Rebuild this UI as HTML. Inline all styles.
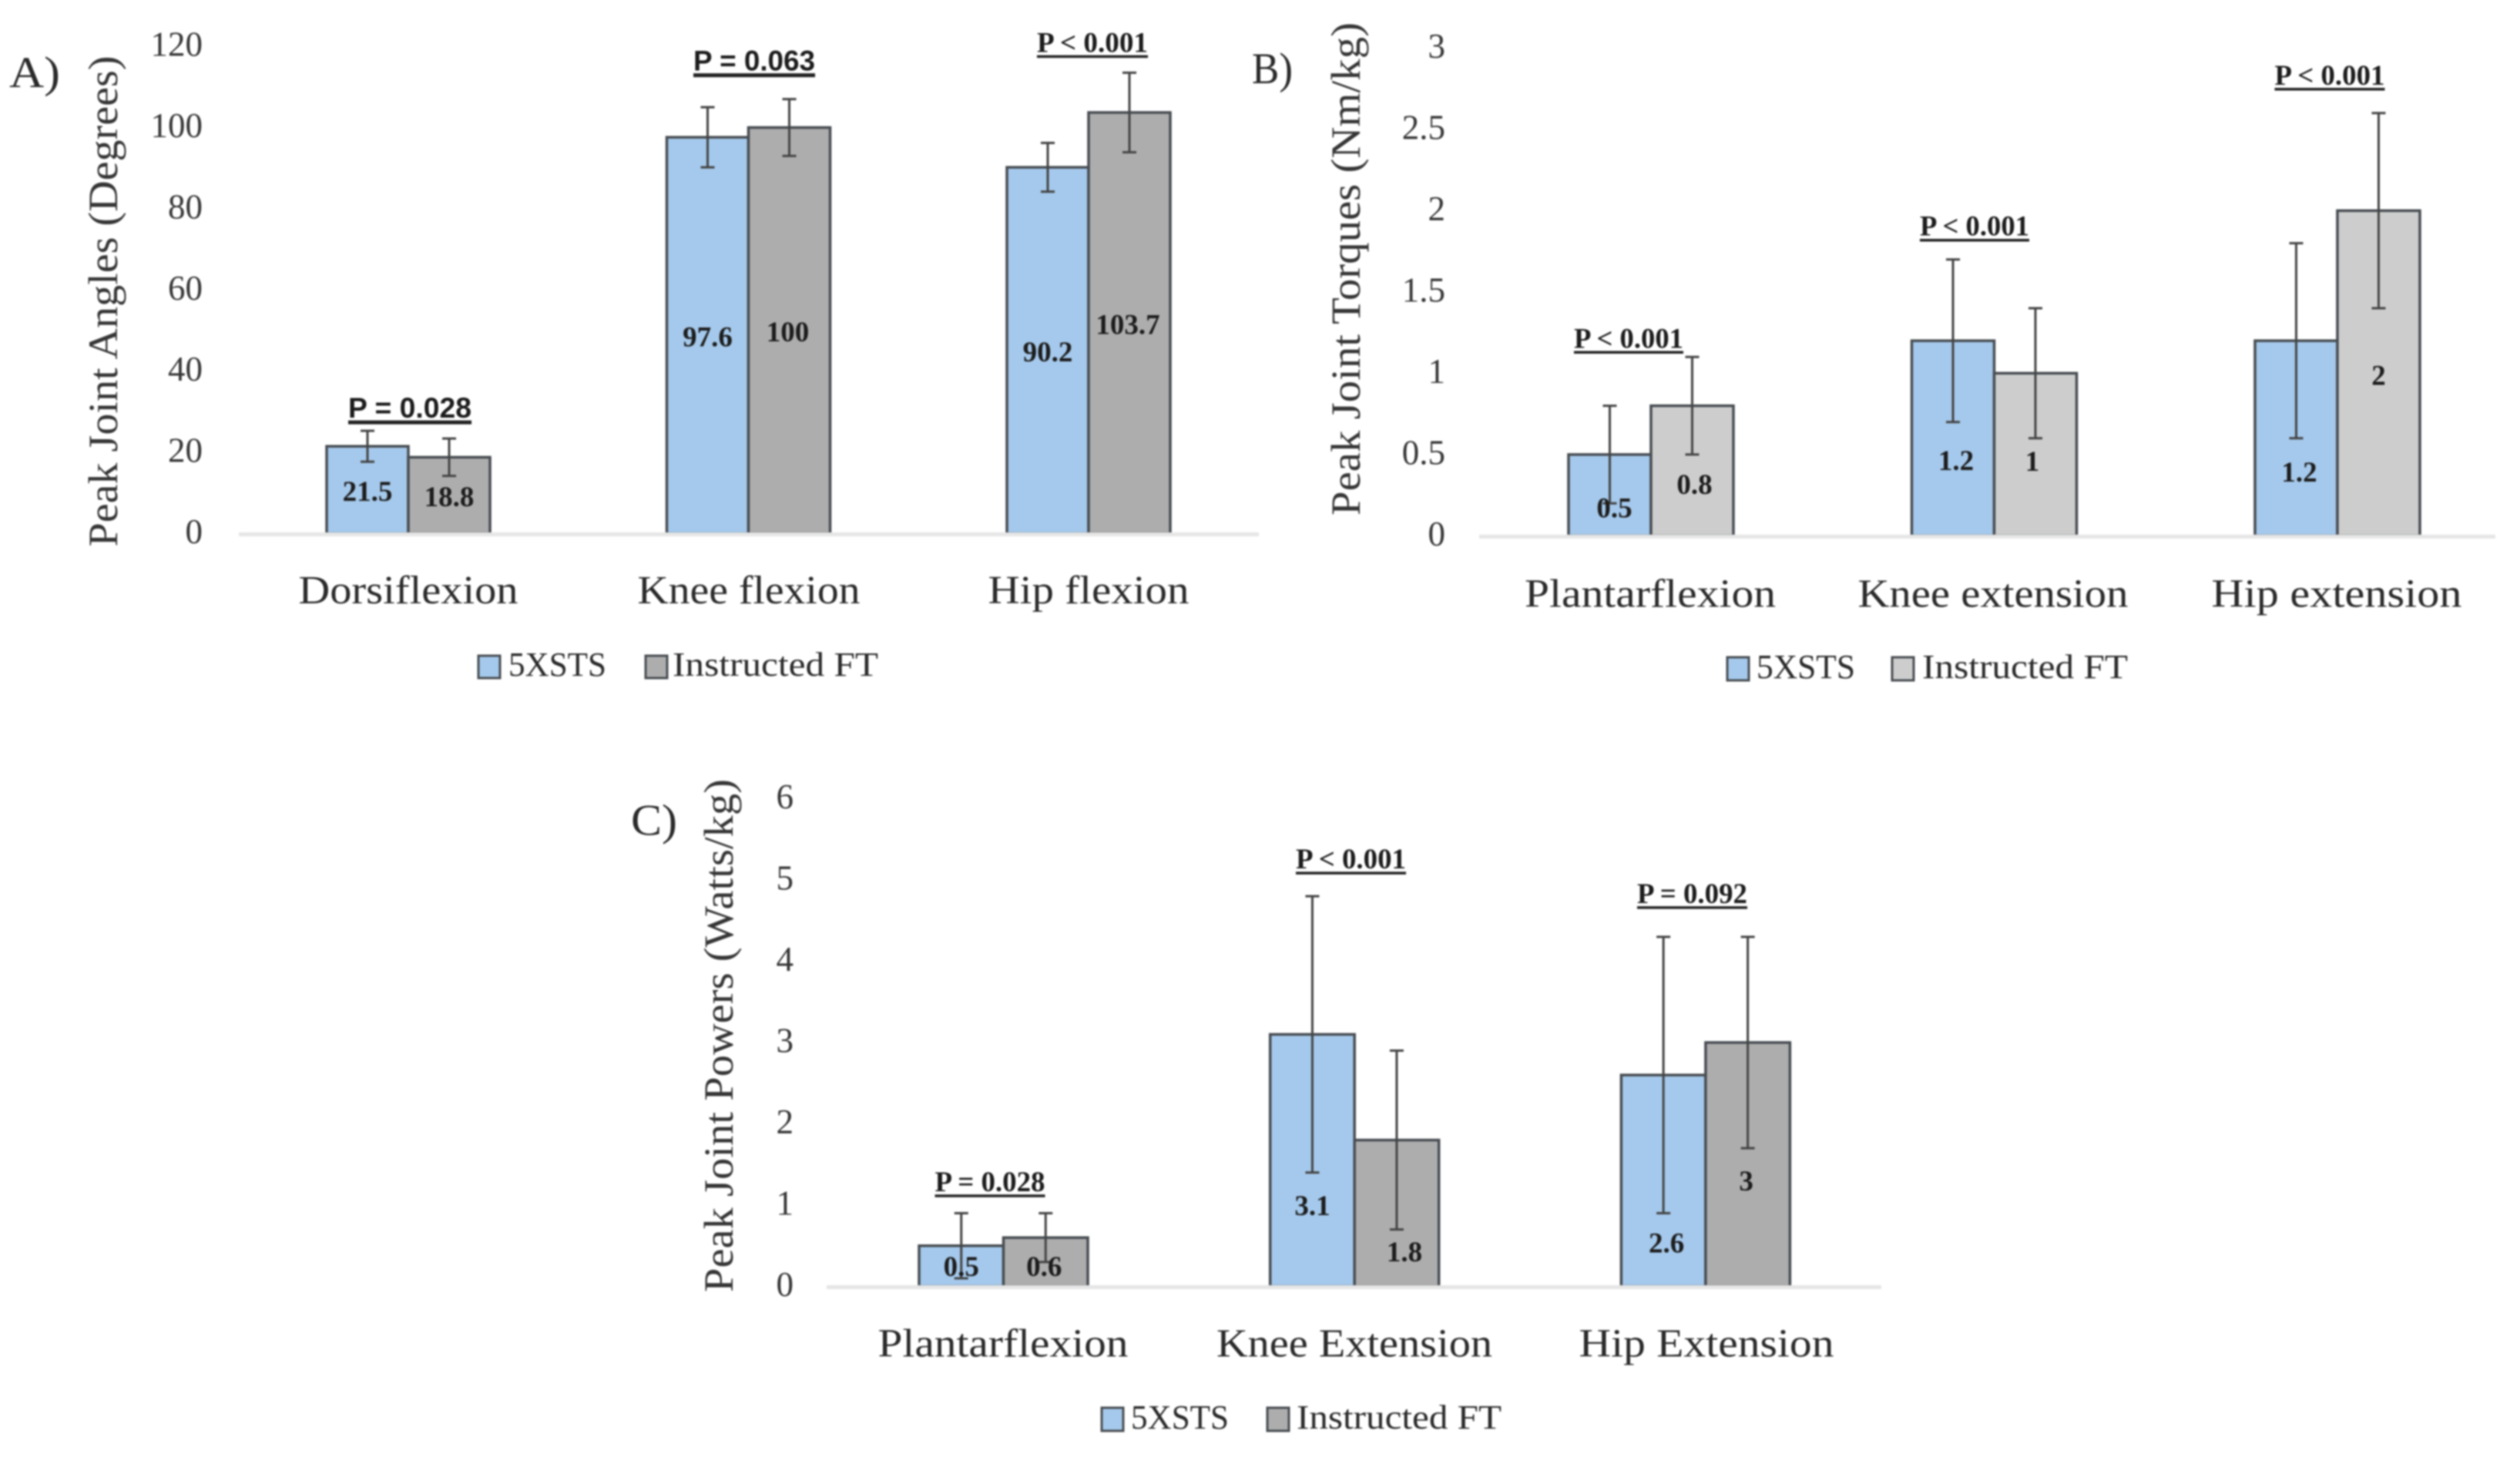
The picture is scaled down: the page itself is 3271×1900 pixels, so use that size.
<!DOCTYPE html>
<html lang="en">
<head>
<meta charset="utf-8">
<title>Peak joint angles, torques and powers</title>
<style>
  html, body { margin: 0; padding: 0; background: #ffffff; }
  #figure { display: block; width: 3271px; height: 1900px; filter: blur(1.1px); font-family: "Liberation Serif", serif; }
</style>
</head>
<body>
<svg id="figure" xmlns="http://www.w3.org/2000/svg" width="3271" height="1900" viewBox="0 0 3271 1900"></svg>
<script>
/* ---- Chart A: peak joint angles ---- */
const anglesCategories = ["Dorsiflexion", "Knee flexion", "Hip flexion"];
const anglesXsts = [21.5, 97.6, 90.2];
const anglesFt = [18.8, 100, 103.7];
const anglesXstsSd = [3.8, 7.4, 6];
const anglesFtSd = [4.6, 7, 9.8];
const anglesTicks = [0, 20, 40, 60, 80, 100, 120];
const anglesPValues = ["P = 0.028", "P = 0.063", "P < 0.001"];

/* ---- Chart B: peak joint torques ---- */
const torquesCategories = ["Plantarflexion", "Knee extension", "Hip extension"];
const torquesXsts = [0.5, 1.2, 1.2];
const torquesFt = [0.8, 1, 2];
const torquesXstsSd = [0.3, 0.5, 0.6];
const torquesFtSd = [0.3, 0.4, 0.6];
const torquesTicks = [0, 0.5, 1, 1.5, 2, 2.5, 3];
const torquesPValues = ["P < 0.001", "P < 0.001", "P < 0.001"];

/* ---- Chart C: peak joint powers ---- */
const powersCategories = ["Plantarflexion", "Knee Extension", "Hip Extension"];
const powersXsts = [0.5, 3.1, 2.6];
const powersFt = [0.6, 1.8, 3];
const powersXstsSd = [0.4, 1.7, 1.7];
const powersFtSd = [0.3, 1.1, 1.3];
const powersTicks = [0, 1, 2, 3, 4, 5, 6];
const powersPValues = ["P = 0.028", "P < 0.001", "P = 0.092"];

const seriesNames = ["5XSTS", "Instructed FT"];

const SVG_NS = "http://www.w3.org/2000/svg";
const root = document.getElementById("figure");

function add(tag, attrs, parent, text) {
  const node = document.createElementNS(SVG_NS, tag);
  for (const key in attrs) node.setAttribute(key, attrs[key]);
  if (text !== undefined) node.textContent = text;
  parent.appendChild(node);
  return node;
}

function drawChart(cfg) {
  const panel = add("g", {}, root);
  
  

  const yScale = v => cfg.baseY - v * cfg.pxPerUnit;
  const groupX = i => cfg.firstCenter + i * cfg.step;

  /* panel letter */
  const letter = add("text", { x: cfg.letter.x, y: cfg.letter.y, "font-size": 57, fill: "#2a2a2a", textLength: cfg.letter.w, lengthAdjust: "spacingAndGlyphs" }, panel, cfg.letter.text);
  
  

  /* y axis title */
  const title = add("text", { transform: "translate(" + cfg.title.x + "," + cfg.title.y + ") rotate(-90)", "text-anchor": "middle", "font-size": 54, fill: "#363636", textLength: cfg.title.w, lengthAdjust: "spacingAndGlyphs" }, panel, cfg.title.text);
  
  

  /* y tick labels */
  cfg.ticks.forEach(t => {
    const tick = add("text", { x: cfg.tickX, y: yScale(t) + 12.5, "text-anchor": "end", "font-size": 45, fill: "#363636" }, panel, String(t));
    
    
  });

  /* bars */
  const series = [
    { values: cfg.xsts, sd: cfg.xstsSd, fill: "#a5c9ec", side: -1 },
    { values: cfg.ft, sd: cfg.ftSd, fill: cfg.ftFill, side: 1 }
  ];
  series.forEach((s, si) => {
    s.values.forEach((v, i) => {
      const left = groupX(i) + (s.side < 0 ? -cfg.barW : 0);
      const rect = add("rect", { x: left, y: yScale(v), width: cfg.barW, height: cfg.baseY - yScale(v), fill: s.fill, stroke: "#484d52", "stroke-width": 3.5 }, panel);
      
      
    });
  });

  /* axis line */
  const axis = add("line", { x1: cfg.axisFrom, x2: cfg.axisTo, y1: cfg.baseY + 1, y2: cfg.baseY + 1, stroke: "#e6e6e6", "stroke-width": 5 }, panel);
  
  

  /* error bars and value labels */
  series.forEach((s, si) => {
    s.values.forEach((v, i) => {
      const cx = groupX(i) + s.side * cfg.barW / 2;
      const top = yScale(v + s.sd[i]);
      const bottom = yScale(v - s.sd[i]);
      const whisker = add("path", {
        d: "M" + cx + " " + top + "V" + bottom + "M" + (cx - 9) + " " + top + "H" + (cx + 9) + "M" + (cx - 9) + " " + bottom + "H" + (cx + 9),
        fill: "none", stroke: "#444444", "stroke-width": 3
      }, panel);
      
      

      const nudge = cfg.labelNudge[si * 3 + i];
      const label = add("text", { x: cx + nudge[0], y: yScale(v / 2) + nudge[1], "text-anchor": "middle", "font-size": 37, "font-weight": "bold", fill: "#1c1c1c" }, panel, String(v));
      
      
    });
  });

  /* p values */
  cfg.pValues.forEach((p, i) => {
    const high = Math.max(cfg.xsts[i] + cfg.xstsSd[i], cfg.ft[i] + cfg.ftSd[i]);
    const base = yScale(high) - cfg.pGap[i];
    const cx = cfg.pCenter[i];
    const width = cfg.pWidth[i];
    const sans = p.indexOf("=") >= 0 && cfg.pSans;
    const pText = add("text", {
      x: cx, y: base, "text-anchor": "middle", "font-size": 37, "font-weight": "bold", fill: "#1c1c1c",
      "font-family": sans ? '"Liberation Sans", sans-serif' : '"Liberation Serif", serif',
      textLength: width, lengthAdjust: "spacingAndGlyphs"
    }, panel, p);
    
    
    const rule = add("line", { x1: cx - width / 2, x2: cx + width / 2, y1: base + 6, y2: base + 6, stroke: "#222222", "stroke-width": sans ? 5 : 3.5 }, panel);
    
    
  });

  /* category labels */
  cfg.categories.forEach((c, i) => {
    const cat = add("text", { x: cfg.catCenter[i], y: cfg.catY, "text-anchor": "middle", "font-size": 52, fill: "#2a2a2a", textLength: cfg.catWidth[i], lengthAdjust: "spacingAndGlyphs" }, panel, c);
    
    
  });

  /* legend */
  const legend = add("g", {}, panel);
  
  
  const L = cfg.legend;
  const swatchA = add("rect", { x: L.sw1, y: L.top, width: 28, height: L.h, fill: "#a5c9ec", stroke: "#484d52", "stroke-width": 3 }, legend);
  
  
  const labelA = add("text", { x: L.t1, y: L.base, "font-size": 44, fill: "#2a2a2a", textLength: L.w1, lengthAdjust: "spacingAndGlyphs" }, legend, seriesNames[0]);
  
  
  const swatchB = add("rect", { x: L.sw2, y: L.top, width: 28, height: L.h, fill: cfg.ftFill, stroke: "#484d52", "stroke-width": 3 }, legend);
  
  
  const labelB = add("text", { x: L.t2, y: L.base, "font-size": 44, fill: "#2a2a2a", textLength: L.w2, lengthAdjust: "spacingAndGlyphs" }, legend, seriesNames[1]);
  
  
}

drawChart({
  name: "peak-joint-angles-chart",
  categories: anglesCategories, xsts: anglesXsts, ft: anglesFt, xstsSd: anglesXstsSd, ftSd: anglesFtSd,
  ticks: anglesTicks, pValues: anglesPValues,
  baseY: 692.5, pxPerUnit: 5.27, firstCenter: 530, step: 441.5, barW: 106, axisFrom: 310, axisTo: 1634,
  ftFill: "#adadad", tickX: 263, catY: 783,
  catCenter: [530, 972, 1413], catWidth: [285, 289, 261],
  letter: { text: "A)", x: 12, y: 113, w: 66 },
  title: { text: "Peak Joint Angles (Degrees)", x: 152, y: 391, w: 637 },
  labelNudge: [[0, 14], [0, 14], [0, 14], [0, 14], [-2, 14], [-2, 14]],
  pCenter: [532, 979, 1418], pWidth: [160, 158, 144], pGap: [17, 37, 27], pSans: true,
  legend: { sw1: 621, sw2: 838, top: 851, h: 29, t1: 660, t2: 873, base: 877, w1: 127, w2: 267 }
});

drawChart({
  name: "peak-joint-torques-chart",
  categories: torquesCategories, xsts: torquesXsts, ft: torquesFt, xstsSd: torquesXstsSd, ftSd: torquesFtSd,
  ticks: torquesTicks, pValues: torquesPValues,
  baseY: 695.4, pxPerUnit: 211, firstCenter: 2143, step: 445.5, barW: 107, axisFrom: 1920, axisTo: 3239,
  ftFill: "#cdcdcd", tickX: 1876, catY: 787.5,
  catCenter: [2142, 2587, 3033], catWidth: [326, 351, 325],
  letter: { text: "B)", x: 1625, y: 108, w: 53 },
  title: { text: "Peak Joint Torques (Nm/kg)", x: 1765, y: 349, w: 640 },
  labelNudge: [[6, 29], [4, 41], [4, 56], [3, 30], [-4, 21], [0, 15]],
  pCenter: [2114, 2563, 3024], pWidth: [142, 142, 143], pGap: [12, 31, 37], pSans: false,
  legend: { sw1: 2242, sw2: 2456, top: 853, h: 30, t1: 2280, t2: 2495, base: 880, w1: 128, w2: 267 }
});

drawChart({
  name: "peak-joint-powers-chart",
  categories: powersCategories, xsts: powersXsts, ft: powersFt, xstsSd: powersXstsSd, ftSd: powersFtSd,
  ticks: powersTicks, pValues: powersPValues,
  baseY: 1669.5, pxPerUnit: 105.5, firstCenter: 1302.5, step: 455.7, barW: 109.5, axisFrom: 1073, axisTo: 2442,
  ftFill: "#adadad", tickX: 1030, catY: 1760.5,
  catCenter: [1302, 1758, 2215], catWidth: [325, 358, 331],
  letter: { text: "C)", x: 819, y: 1083.5, w: 60 },
  title: { text: "Peak Joint Powers (Watts/kg)", x: 951, y: 1344, w: 666 },
  labelNudge: [[0, 13], [0, 71], [4, 93], [-2, 18], [10, 62.5], [-2, 33.5]],
  pCenter: [1285, 1753.5, 2196.5], pWidth: [143, 143, 143], pGap: [28.5, 36, 44], pSans: false,
  legend: { sw1: 1430, sw2: 1645, top: 1827, h: 30, t1: 1468, t2: 1683, base: 1854, w1: 127, w2: 266 }
});
</script>
</body>
</html>
